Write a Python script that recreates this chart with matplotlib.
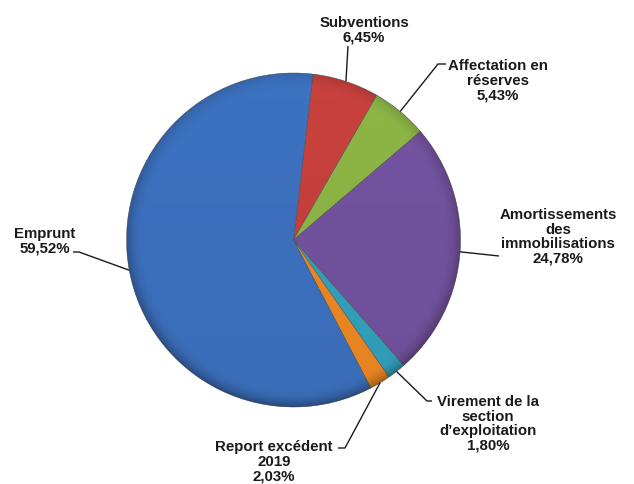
import numpy as np
import matplotlib as mpl
from matplotlib import pyplot as plt

mpl.rcParams['font.family'] = ['Liberation Sans', 'DejaVu Sans']

# data
categories = ['Subventions',
              'Affectation en\nréserves',
              'Amortissements\ndes\nimmobilisations',
              'Virement de la\nsection\nd\u2019exploitation',
              'Report excédent\n2019',
              'Emprunt']
values = [6.45, 5.43, 24.78, 1.80, 2.03, 59.52]
colors = ['#C8413D', '#8DB646', '#7453A0', '#33A3BE', '#F08A24', '#3D72C1']

W, H = 634, 485

f = plt.figure(figsize=(W / 100.0, H / 100.0), dpi=100)
ax = f.add_axes([0, 0, 1, 1])

cx, cy, R = 293.5, H - 241.0, 167.0

wedges, _ = ax.pie(values, colors=colors, startangle=90 - 6.7, counterclock=False,
                   center=(cx, cy), radius=R, frame=True,
                   wedgeprops=dict(edgecolor='#505050', linewidth=0.35))
for w in wedges:
    w.set_zorder(2)

# soft rim shading (bevel look), stronger toward the bottom
n = 400
yy, xx = np.mgrid[-1:1:n * 1j, -1:1:n * 1j]
rr = np.sqrt(xx ** 2 + yy ** 2)
rim = np.clip((rr - 0.90) / 0.10, 0, 1) ** 2
alpha = rim * (0.12 + 0.18 * (yy + 1) / 2) + 0.05 * (yy + 1) / 2
shade = np.zeros((n, n, 4))
shade[..., 3] = np.clip(alpha, 0, 1)
im = ax.imshow(shade, extent=(cx - R, cx + R, cy - R, cy + R), origin='upper',
               zorder=3, interpolation='bilinear')
clip = plt.Circle((cx, cy), R, transform=ax.transData)
im.set_clip_path(clip)

# labels: text centre and elbow points (image pixel coords)
textpos = [(364, 30), (498, 81), (558, 237), (488, 424), (274, 462), (45, 241)]
elbows = [[(348, 47)],
          [(446, 65), (438, 65)],
          [(499, 257)],
          [(432, 402), (427, 402)],
          [(338, 449), (345, 449)],
          [(73, 253), (79, 253)]]

for w, lab, v, (tx, ty), pts in zip(wedges, categories, values, textpos, elbows):
    mid = np.deg2rad((w.theta1 + w.theta2) / 2.0)
    ex, ey = cx + R * np.cos(mid), cy + R * np.sin(mid)
    xs = [p[0] for p in pts] + [ex]
    ys = [H - p[1] for p in pts] + [ey]
    ax.plot(xs, ys, color='#1a1a1a', lw=1.0, zorder=4, solid_capstyle='butt')
    txt = lab + '\n' + ('%.2f' % v).replace('.', ',') + '%'
    ax.text(tx, H - ty, txt, ha='center', va='center', multialignment='center',
            fontsize=10.8, fontweight='bold', color='#1a1a1a', linespacing=1.05,
            zorder=5)

ax.set_xlim(0, W)
ax.set_ylim(0, H)
ax.set_aspect('auto')
ax.axis('off')

f.savefig('out.png', dpi=100, facecolor='white')
